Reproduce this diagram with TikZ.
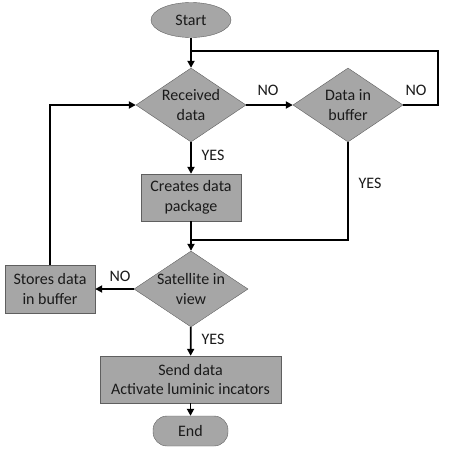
\documentclass[tikz,border=0pt]{standalone}
\usepackage{fontspec}
\setmainfont{Carlito}
\usetikzlibrary{arrows.meta,positioning,shapes.geometric,calc}
\definecolor{cinzacaixa}{HTML}{A6A6A6}
\definecolor{cinzaborda}{HTML}{5F5F5F}
\definecolor{textoesc}{HTML}{1A1A1A}

\begin{document}
\begin{tikzpicture}[x=1pt, y=-1pt,
  caixa/.style={draw=cinzaborda, fill=cinzacaixa, inner sep=0pt, align=center,
                text=textoesc, font=\fontsize{16}{19.5}\selectfont},
  decisao/.style={caixa, diamond, aspect=1.5, minimum width=110pt, minimum height=74pt},
  inicio/.style={caixa, ellipse, minimum width=80pt, minimum height=35pt},
  fim/.style={caixa, rounded corners=14pt, minimum width=75pt, minimum height=30pt},
  rotulo/.style={text=textoesc, font=\fontsize{16}{18}\selectfont},
  linha/.style={black, line width=1.8pt},
  seta/.style={linha, -{Triangle[length=7pt, width=7pt]}}
]
\fill[white] (0,0) rectangle (461,455);
\useasboundingbox (0,0) rectangle (461,455);
\node[inicio] (start) at (191,20) {Start};
\node[decisao] (recebido) at (191,105) {Received\\data};
\node[decisao] (buffer) at (348,105) {Data in\\buffer};
\node[caixa, minimum width=100pt, minimum height=47pt] (pacote) at (191,197.5) {Creates data\\package};
\node[decisao] (satelite) at (191,289) {Satellite in\\view};
\node[caixa, minimum width=90pt, minimum height=48pt] (guarda) at (50,289) {Stores data\\in buffer};
\node[caixa, minimum width=181pt, minimum height=47pt] (envia) at (190.5,379.5) {Send data\\Activate luminic incators};
\node[fim] (fim) at (190.5,431) {End};
\coordinate (juncao1) at (191,51);
\coordinate (juncao2) at (191,240);
\draw[seta] (start) -- (recebido);
\draw[seta] (recebido) -- (buffer);
\draw[linha] (buffer.east) -- ++(35,0) |- (juncao1);
\draw[seta] (recebido) -- (pacote);
\draw[seta] (pacote) -- (satelite);
\draw[linha] (buffer.south) |- (juncao2);
\draw[seta] (satelite) -- (guarda);
\draw[seta] (guarda.north) |- (recebido.west);
\draw[seta] (satelite) -- (envia);
\draw[seta] (envia) -- (fim);
\node[rotulo] at (268,90) {NO};
\node[rotulo] at (416,90) {NO};
\node[rotulo] at (213,155) {YES};
\node[rotulo] at (370,183) {YES};
\node[rotulo] at (120,276) {NO};
\node[rotulo] at (213,339) {YES};
\end{tikzpicture}
\end{document}
